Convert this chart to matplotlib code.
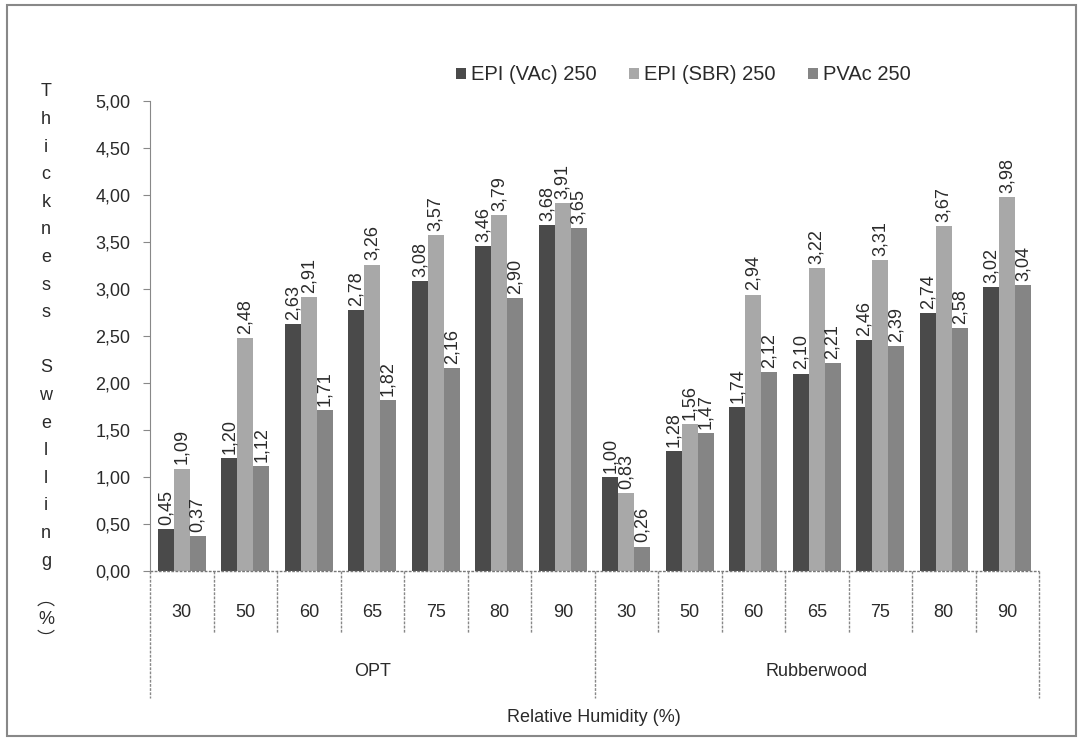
import matplotlib
matplotlib.use("Agg")
import matplotlib.pyplot as plt
from matplotlib.patches import Rectangle
import numpy as np

plt.rcParams['font.family'] = ['Liberation Sans', 'DejaVu Sans']

species = ["OPT", "Rubberwood"]
humidity = ["30", "50", "60", "65", "75", "80", "90"]
series_names = ["EPI (VAc) 250", "EPI (SBR) 250", "PVAc 250"]

epi_vac = [0.45, 1.20, 2.63, 2.78, 3.08, 3.46, 3.68,
           1.00, 1.28, 1.74, 2.10, 2.46, 2.74, 3.02]
epi_sbr = [1.09, 2.48, 2.91, 3.26, 3.57, 3.79, 3.91,
           0.83, 1.56, 2.94, 3.22, 3.31, 3.67, 3.98]
pvac = [0.37, 1.12, 1.71, 1.82, 2.16, 2.90, 3.65,
        0.26, 1.47, 2.12, 2.21, 2.39, 2.58, 3.04]

y_ticks = [0, 0.5, 1.0, 1.5, 2.0, 2.5, 3.0, 3.5, 4.0, 4.5, 5.0]

colors = ["#4a4a4a", "#a8a8a8", "#858585"]
series = [epi_vac, epi_sbr, pvac]
FS = 13
TC = '#2a2a2a'

W, H = 1079, 739
fig = plt.figure(figsize=(W / 100, H / 100), dpi=100)
ax = fig.add_axes([150 / W, 1 - 571 / H, (1039 - 150) / W, (571 - 101) / H])

n = len(humidity) * len(species)
x = np.arange(n) + 0.5
bw = 0.25
for i, (vals, c, name) in enumerate(zip(series, colors, series_names)):
    xs = x + (i - 1) * bw
    ax.bar(xs, vals, width=bw, color=c, label=name, edgecolor='none')
    for xi, v in zip(xs, vals):
        ax.annotate(f"{v:.2f}".replace('.', ','), (xi, v), xytext=(0, 3),
                    textcoords='offset points', rotation=90, ha='center',
                    va='bottom', fontsize=FS, color=TC)

ax.set_xlim(0, n)
ax.set_ylim(0, 5)
ax.set_yticks(y_ticks)
ax.set_yticklabels([f"{t:.2f}".replace('.', ',') for t in y_ticks], fontsize=FS, color=TC)
ax.tick_params(axis='y', length=5, color='#888', pad=9)
ax.set_xticks(x)
ax.set_xticklabels(humidity * len(species), fontsize=FS, color=TC)
ax.tick_params(axis='x', length=0, pad=24)
for s in ['top', 'right', 'bottom']:
    ax.spines[s].set_visible(False)
ax.spines['left'].set_color('#888')

tr = ax.get_xaxis_transform()
ls = (0, (2, 1))
ax.plot([0, n], [0, 0], transform=tr, color='#777', lw=1, ls=ls, clip_on=False)
for k in range(0, n + 1):
    if k % len(humidity) == 0:
        ax.plot([k, k], [0, -0.27], transform=tr, color='#888', lw=1, ls=ls, clip_on=False)
    else:
        ax.plot([k, k], [0, -0.132], transform=tr, color='#888', lw=1, ls=ls, clip_on=False)
for j, sp in enumerate(species):
    ax.text(j * len(humidity) + len(humidity) / 2, (571 - 672) / 470, sp, transform=tr,
            ha='center', va='center', fontsize=FS, color=TC)

fig.text(594 / W, 1 - 718 / H, "Relative Humidity (%)", ha='center', va='center',
         fontsize=FS, color=TC)

# stacked y title
title = "Thickness Swelling"
y0, step = 92, 27.6
for i, ch in enumerate(title):
    if ch != ' ':
        fig.text(46 / W, 1 - (y0 + i * step) / H, ch, ha='center', va='center',
                 fontsize=FS, color=TC)
cjk = ['Noto Sans CJK SC', 'DejaVu Sans']
fig.text(46 / W, 1 - 600 / H, "\ufe35", ha='center', va='center', fontsize=FS,
         color=TC, family=cjk)
fig.text(46 / W, 1 - 620 / H, "%", ha='center', va='center', fontsize=FS, color=TC)
fig.text(46 / W, 1 - 640 / H, "\ufe36", ha='center', va='center', fontsize=FS,
         color=TC, family=cjk)

leg = ax.legend(loc='center left', bbox_to_anchor=(438 / W, 1 - 75 / H),
                bbox_transform=fig.transFigure, ncol=3, frameon=False,
                fontsize=14.5, handlelength=0.5, handleheight=0.5, handletextpad=0.25,
                columnspacing=1.6, labelcolor=TC)

fig.patches.append(Rectangle((7 / W, 1 - 736 / H), (1076 - 7) / W, (736 - 5) / H,
                             transform=fig.transFigure, fill=False, edgecolor='#888', lw=1.5))

fig.savefig("out.png", dpi=100, facecolor='white')
